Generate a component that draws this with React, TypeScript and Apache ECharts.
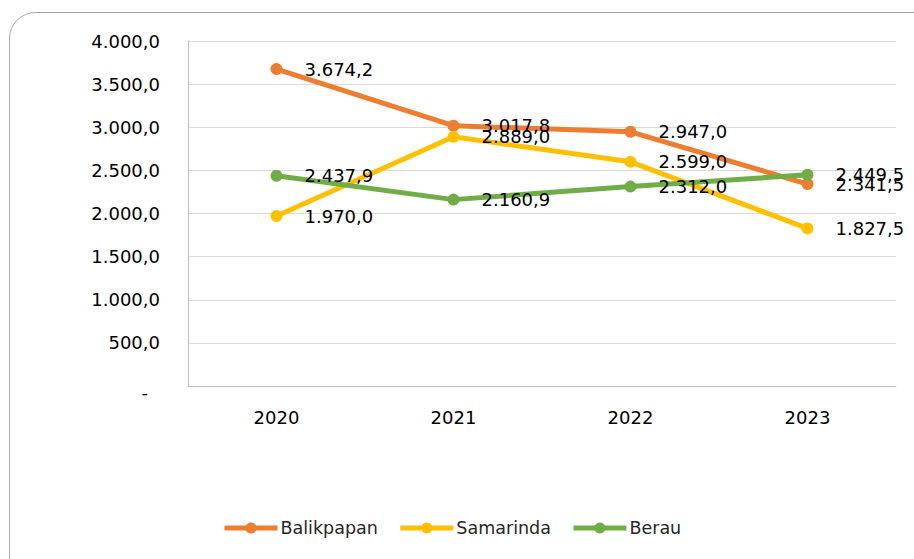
import React, { useEffect, useRef } from "react";
import * as echarts from "echarts";

const categories = ["2020", "2021", "2022", "2023"];
const balikpapan = [3674.2, 3017.8, 2947.0, 2341.5];
const samarinda = [1970.0, 2889.0, 2599.0, 1827.5];
const berau = [2437.9, 2160.9, 2312.0, 2449.5];
const seriesNames = ["Balikpapan", "Samarinda", "Berau"];
const colors = ["#ED7D31", "#FFC000", "#70AD47"];

const FONT = "DejaVu Sans";

function fmt(v: number): string {
  const fixed = Math.abs(v).toFixed(1);
  const [intPart, dec] = fixed.split(".");
  const withSep = intPart.replace(/\B(?=(\d{3})+(?!\d))/g, ".");
  return (v < 0 ? "-" : "") + withSep + "," + dec;
}

export default function App() {
  const ref = useRef<HTMLDivElement>(null);
  useEffect(() => {
    if (!ref.current) return;
    const chart = echarts.init(ref.current, null, { renderer: "svg" });
    const data = [balikpapan, samarinda, berau];
    chart.setOption({
      animation: false,
      backgroundColor: "#ffffff",
      graphic: [
        {
          type: "rect",
          shape: { x: 9.5, y: 12.5, width: 960, height: 640, r: 26 },
          style: { fill: "none", stroke: "#a6a6a6", lineWidth: 1 },
          silent: true,
          z: -10,
        },
      ],
      grid: { left: 188, right: 18, top: 41, bottom: 173, containLabel: false },
      legend: {
        data: seriesNames,
        bottom: 17,
        left: 217,
        itemWidth: 53,
        itemHeight: 14,
        itemGap: 20,
        lineStyle: { width: 5 },
        textStyle: { fontFamily: FONT, fontSize: 17.5, color: "#262626", padding: [0, 0, 0, -2] },
      },
      xAxis: {
        type: "category",
        data: categories,
        boundaryGap: true,
        axisLine: { show: true, lineStyle: { color: "#bfbfbf", width: 1 } },
        axisTick: { show: false },
        axisLabel: { fontFamily: FONT, fontSize: 18, color: "#000", margin: 22 },
      },
      yAxis: {
        type: "value",
        min: 0,
        max: 4000,
        interval: 500,
        axisLine: { show: true, lineStyle: { color: "#bfbfbf", width: 1 } },
        axisTick: { show: false },
        splitLine: { show: true, lineStyle: { color: "#d9d9d9", width: 1 } },
        axisLabel: {
          fontFamily: FONT,
          fontSize: 18,
          color: "#000",
          margin: 28,
          formatter: (v: number) => (v === 0 ? "{d|-}" : fmt(v)),
          rich: { d: { fontFamily: FONT, fontSize: 18, color: "#000", padding: [12, 12, 0, 0] } },
        },
      },
      series: seriesNames.map((name, i) => ({
        name,
        type: "line",
        data: data[i],
        symbol: "circle",
        symbolSize: 12,
        lineStyle: { color: colors[i], width: 5 },
        itemStyle: { color: colors[i] },
        label: {
          show: true,
          position: "right",
          distance: 22,
          fontFamily: FONT,
          fontSize: 18,
          color: "#000",
          formatter: (p: any) => fmt(p.value),
        },
      })),
    });
    return () => chart.dispose();
  }, []);
  return (
    <div
      ref={ref}
      style={{ position: "absolute", left: 0, top: 0, width: 914, height: 559 }}
    />
  );
}
